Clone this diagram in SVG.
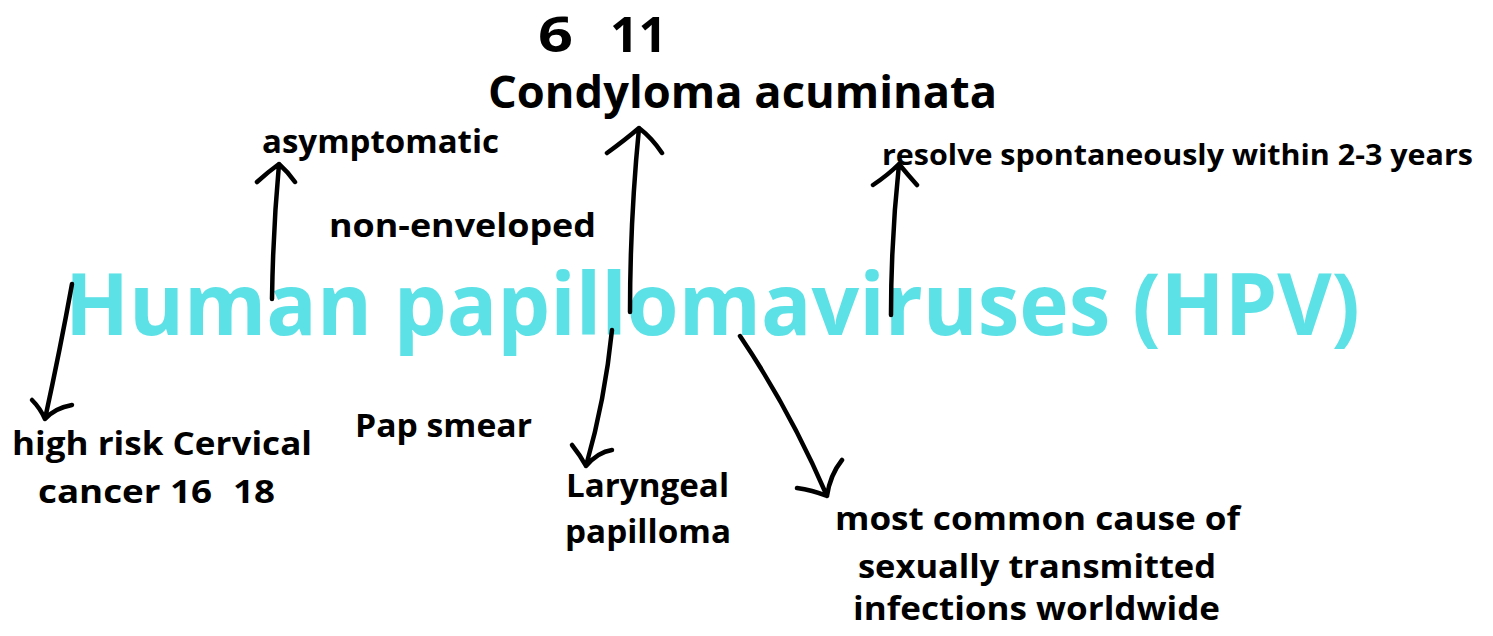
<svg xmlns="http://www.w3.org/2000/svg" width="1493" height="636" viewBox="0 0 1493 636">
<style>
.t{font-family:"Open Sans","Liberation Sans",sans-serif;font-weight:700;fill:#000}
.title{font-family:"Open Sans","Liberation Sans",sans-serif;font-weight:700;fill:#5CE1E6;font-size:86px}
.a{fill:none;stroke:#000;stroke-width:4.5;stroke-linecap:round;stroke-linejoin:round}
</style>
<rect width="1493" height="636" fill="#fff"/>
<g id="title"><text class="title" x="65" y="335" textLength="1295" lengthAdjust="spacingAndGlyphs">Human papillomaviruses (HPV)</text></g>
<g id="n-611"><text class="t" x="538" y="52" font-size="48" textLength="35" lengthAdjust="spacingAndGlyphs">6</text><text class="t" x="610" y="52" font-size="48" textLength="57" lengthAdjust="spacingAndGlyphs">11</text></g>
<g id="n-condyloma"><text class="t" x="488" y="108" font-size="44" textLength="509" lengthAdjust="spacingAndGlyphs">Condyloma acuminata</text></g>
<g id="n-asym"><text class="t" x="262" y="153" font-size="32" textLength="237" lengthAdjust="spacingAndGlyphs">asymptomatic</text></g>
<g id="n-nonenv"><text class="t" x="329" y="237" font-size="32" textLength="267" lengthAdjust="spacingAndGlyphs">non-enveloped</text></g>
<g id="n-resolve"><text class="t" x="882" y="165" font-size="28" textLength="591" lengthAdjust="spacingAndGlyphs">resolve spontaneously within 2-3 years</text></g>
<g id="n-high"><text class="t" x="12" y="455" font-size="33" textLength="300" lengthAdjust="spacingAndGlyphs">high risk Cervical</text><text class="t" x="38" y="503" font-size="33" textLength="174" lengthAdjust="spacingAndGlyphs">cancer 16</text><text class="t" x="233" y="503" font-size="33" textLength="42" lengthAdjust="spacingAndGlyphs">18</text></g>
<g id="n-pap"><text class="t" x="355" y="437" font-size="32" textLength="177" lengthAdjust="spacingAndGlyphs">Pap smear</text></g>
<g id="n-lar"><text class="t" x="566" y="497" font-size="32" textLength="163" lengthAdjust="spacingAndGlyphs">Laryngeal</text><text class="t" x="565" y="543" font-size="32" textLength="166" lengthAdjust="spacingAndGlyphs">papilloma</text></g>
<g id="n-most"><text class="t" x="835" y="530" font-size="33" textLength="405" lengthAdjust="spacingAndGlyphs">most common cause of</text><text class="t" x="858" y="578" font-size="33" textLength="358" lengthAdjust="spacingAndGlyphs">sexually transmitted</text><text class="t" x="853" y="620" font-size="33" textLength="367" lengthAdjust="spacingAndGlyphs">infections worldwide</text></g>
<g id="connectors">
<path class="a" d="M72 284 Q60 350 45 419 M32 400 Q40 408 45 419 Q55 408 72 405"/>
<path class="a" d="M272 299 Q273 230 279 164 M257 182 Q268 172 279 164 Q288 172 295 182"/>
<path class="a" d="M630 312 Q630 220 639 128 M607 153 Q625 140 639 128 Q652 138 662 153"/>
<path class="a" d="M891 315 Q891 240 899 164 M873 185 Q888 175 899 164 Q908 175 917 185"/>
<path class="a" d="M612 330 Q605 400 586 466 M572 445 Q580 455 586 466 Q598 452 612 450"/>
<path class="a" d="M740 336 Q790 410 827 496 M797 488 Q812 490 827 496 Q830 475 842 460" stroke-width="6"/>
</g>
</svg>
